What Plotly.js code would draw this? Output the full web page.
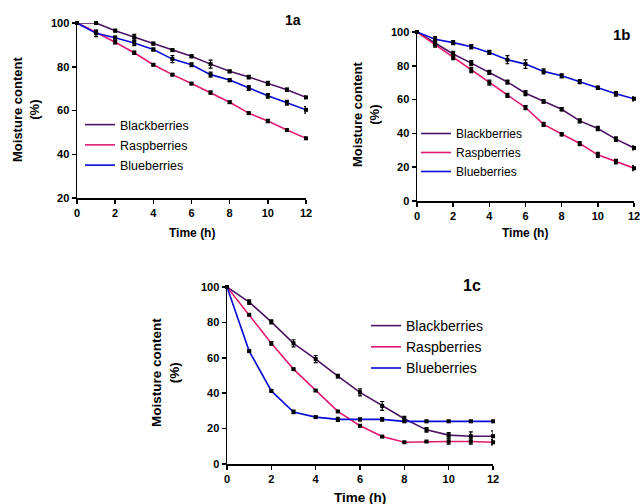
<!DOCTYPE html>
<html>
<head>
<meta charset="utf-8">
<script src="https://cdn.plot.ly/plotly-3.0.1.min.js"></script>
<style>html,body{margin:0;padding:0;background:#fff}#chart{width:643px;height:504px}</style>
</head>
<body>
<div id="chart"></div>
<script>
const hours = [0,1,2,3,4,5,6,7,8,9,10,11,12];
const seriesNames = ['Blackberries','Raspberries','Blueberries'];
const seriesColors = ['#4b1463','#e21a6f','#0a0ad6'];

// Panel 1a
const a_black = [100,100,96.5,93.5,90.6,87.6,84.8,81.2,77.9,75.3,72.4,69.5,66.0];
const a_rasp  = [100,95.8,91.2,86.4,80.9,76.4,72.3,68.2,63.8,58.8,55.2,51.1,47.3];
const a_blue  = [100,95.3,93.3,90.9,87.9,83.5,80.9,76.4,73.9,70.3,66.7,63.5,60.3];
const a_black_err = [0,0.3,0.6,1.3,0.6,0.6,0.6,1.8,0.6,0.8,0.9,0.7,0.6];
const a_rasp_err  = [0,0.8,0.7,0.7,0.5,0.5,0.5,0.7,0.5,0.5,0.8,0.5,0.5];
const a_blue_err  = [0,1.5,0.7,1.2,0.6,1.6,0.9,1.1,0.7,1.1,1.0,1.1,1.5];

// Panel 1b
const b_black = [100,93.5,87.0,81.6,76.1,70.4,63.8,58.9,54.3,47.4,42.9,36.6,31.4];
const b_rasp  = [100,92.5,85.2,77.5,70.0,62.5,55.3,45.3,39.5,34.0,27.3,23.3,19.4];
const b_blue  = [100,95.7,93.7,91.3,87.9,83.6,81.0,76.7,74.1,70.6,67.0,63.4,60.5];
const b_black_err = [0,1.5,1.5,1.5,1.2,1.2,1.5,1.0,1.0,1.2,1.2,1.3,1.2];
const b_rasp_err  = [0,1.5,1.5,1.5,1.5,1.2,1.2,1.2,1.0,1.2,1.5,1.3,1.5];
const b_blue_err  = [0,1.6,1.2,1.3,1.2,2.4,2.5,1.5,1.2,1.2,1.0,1.3,1.2];

// Panel 1c
const c_black = [100,91.5,80.3,68.2,59.3,49.6,40.5,32.8,25.6,19.3,16.3,15.7,15.7];
const c_rasp  = [100,84.3,68.2,53.6,41.5,29.7,21.6,15.5,12.3,12.7,12.7,12.7,12.3];
const c_blue  = [100,63.8,41.3,29.4,26.5,25.2,25.2,25.2,24.1,24.1,24.1,24.1,24.1];
const c_black_err = [0,1.3,1.2,2.0,2.0,1.0,2.0,2.5,1.3,1.3,1.5,2.5,3.0];
const c_rasp_err  = [0,0.5,1.0,0.5,0.5,0.5,0.5,0.5,0.3,0.3,1.5,1.5,1.5];
const c_blue_err  = [0,0.5,0.5,1.0,0.5,1.2,0.8,1.0,0.5,0.5,0.5,0.5,0.5];

const panelLabels = ['1a','1b','1c'];
const xTitle = 'Time (h)';
const yTitle = 'Moisture content<br>(%)';

const panels = [
  {xa:'x', ya:'y', leg:'legend', data:[a_black,a_rasp,a_blue], err:[a_black_err,a_rasp_err,a_blue_err]},
  {xa:'x2', ya:'y2', leg:'legend2', data:[b_black,b_rasp,b_blue], err:[b_black_err,b_rasp_err,b_blue_err]},
  {xa:'x3', ya:'y3', leg:'legend3', data:[c_black,c_rasp,c_blue], err:[c_black_err,c_rasp_err,c_blue_err]}
];

const traces = [];
panels.forEach((p, pi) => {
  for (let i = 0; i < 3; i++) {
    traces.push({
      x: hours, y: p.data[i], type:'scatter', mode:'lines',
      name: seriesNames[i], xaxis: p.xa, yaxis: p.ya, legend: p.leg,
      legendgroup: 'g' + pi + '_' + i,
      line:{color: seriesColors[i], width:1.6}, cliponaxis:false
    });
  }
  for (let i = 0; i < 3; i++) {
    traces.push({
      x: hours, y: p.data[i], type:'scatter', mode:'markers',
      name: seriesNames[i], xaxis: p.xa, yaxis: p.ya, showlegend:false,
      marker:{color:'#000', symbol:'square', size:4},
      error_y:{type:'data', array:p.err[i], visible:true, color:'#000', thickness:1.2, width:2},
      cliponaxis:false
    });
  }
});

const W = 643, H = 504;
const fx = px => px / W;
const fy = px => 1 - px / H;
const FAM = 'Liberation Sans, Arial, sans-serif';
const tickFont = {family:FAM, size:11, color:'#000', weight:'bold'};
function axis(domain, range, dtick, anchor) {
  return {domain: domain, range: range, dtick: dtick, tick0: 0, anchor: anchor,
    showline:true, linecolor:'#000', linewidth:1.5, ticks:'outside', ticklen:4, tickwidth:1.5,
    tickcolor:'#000', showgrid:false, zeroline:false, tickfont:tickFont, fixedrange:true};
}

const layout = {
  width: W, height: H, margin:{l:0,r:0,t:0,b:0},
  paper_bgcolor:'#fff', plot_bgcolor:'#fff', showlegend:true,
  xaxis: axis([fx(77), fx(306)], [0,12], 2, 'y'),
  yaxis: axis([fy(198), fy(23)], [20,100], 20, 'x'),
  xaxis2: axis([fx(417), fx(634)], [0,12], 2, 'y2'),
  yaxis2: axis([fy(201), fy(32)], [0,100], 20, 'x2'),
  xaxis3: axis([fx(227), fx(493)], [0,12], 2, 'y3'),
  yaxis3: axis([fy(464), fy(287)], [0,100], 20, 'x3'),
  legend: {x: fx(80), y: fy(110), xanchor:'left', yanchor:'top', bgcolor:'rgba(0,0,0,0)',
    font:{family:FAM, size:12.5, color:'#000'}, itemwidth:30, tracegroupgap:1},
  legend2: {x: fx(416), y: fy(119), xanchor:'left', yanchor:'top', bgcolor:'rgba(0,0,0,0)',
    font:{family:FAM, size:12, color:'#000'}, itemwidth:30, tracegroupgap:0},
  legend3: {x: fx(366), y: fy(310), xanchor:'left', yanchor:'top', bgcolor:'rgba(0,0,0,0)',
    font:{family:FAM, size:14, color:'#000'}, itemwidth:30, tracegroupgap:0},
  annotations: []
};

const labelPos = [[293,20],[622,35],[472,285]];
const labelSize = [14,15,16];
const xTitlePos = [[192,233],[525,233],[360,497]];
const xTitleSize = [12,12,13.5];
const yTitlePos = [[26,110],[366,115],[165,373]];
const yTitleSize = [13,13,13.5];
for (let k = 0; k < 3; k++) {
  layout.annotations.push({text:panelLabels[k], xref:'paper', yref:'paper', x:fx(labelPos[k][0]), y:fy(labelPos[k][1]),
    xanchor:'center', yanchor:'middle', showarrow:false, font:{family:FAM, size:labelSize[k], color:'#000', weight:'bold'}});
  layout.annotations.push({text:xTitle, xref:'paper', yref:'paper', x:fx(xTitlePos[k][0]), y:fy(xTitlePos[k][1]),
    xanchor:'center', yanchor:'middle', showarrow:false, font:{family:FAM, size:xTitleSize[k], color:'#000', weight:'bold'}});
  layout.annotations.push({text:yTitle, xref:'paper', yref:'paper', x:fx(yTitlePos[k][0]), y:fy(yTitlePos[k][1]),
    xanchor:'center', yanchor:'middle', showarrow:false, textangle:-90, font:{family:FAM, size:yTitleSize[k], color:'#000', weight:'bold'}});
}

Plotly.newPlot('chart', traces, layout, {staticPlot:true, displayModeBar:false});
</script>
</body>
</html>
